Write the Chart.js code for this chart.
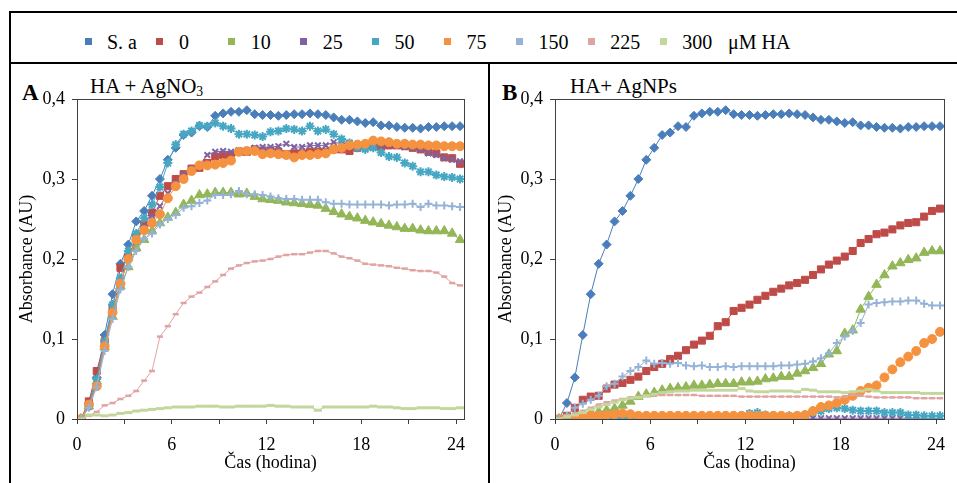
<!DOCTYPE html>
<html>
<head>
<meta charset="utf-8">
<script src="https://cdn.jsdelivr.net/npm/chart.js@4.4.0/dist/chart.umd.min.js"></script>
<style>
  body { margin: 0; background: #fff; font-family: "Liberation Serif", "Times New Roman", serif; }
  #wrap { position: relative; width: 957px; height: 483px; overflow: hidden; }
  .ln { position: absolute; background: #000; }
  .lab { position: absolute; white-space: nowrap; color: #000; line-height: 1; }
  .box { position: absolute; }
  .mk { position: absolute; width: 7px; height: 7px; }
  sub { font-size: 65%; vertical-align: -0.25em; }
</style>
</head>
<body>
<div id="wrap">
  <div class="ln" style="left:9px; top:11px; width:950px; height:2px"></div>
  <div class="ln" style="left:9px; top:11px; width:2px; height:480px"></div>
  <div class="ln" style="left:9px; top:62px; width:950px; height:2px"></div>
  <div class="ln" style="left:488px; top:62px; width:2px; height:430px"></div>
  <div id="legend"></div>
  <div class="lab" style="left:22px; top:81px; font-size:23px; font-weight:bold">A</div>
  <div class="lab" style="left:90px; top:76px; font-size:21px">HA + AgNO<sub>3</sub></div>
  <div class="lab" style="left:502px; top:81px; font-size:23px; font-weight:bold">B</div>
  <div class="lab" style="left:570px; top:76px; font-size:21px">HA+ AgNPs</div>
  <div class="box" style="left:12px; top:65px; width:475px; height:418px"><canvas id="chartA"></canvas></div>
  <div class="box" style="left:491px; top:65px; width:466px; height:418px"><canvas id="chartB"></canvas></div>
</div>
<script>
// čas měření (h)
const time = [0.25, 0.75, 1.25, 1.75, 2.25, 2.75, 3.25, 3.75, 4.25, 4.75,
  5.25, 5.75, 6.25, 6.75, 7.25, 7.75, 8.25, 8.75, 9.25, 9.75,
  10.25, 10.75, 11.25, 11.75, 12.25, 12.75, 13.25, 13.75, 14.25, 14.75,
  15.25, 15.75, 16.25, 16.75, 17.25, 17.75, 18.25, 18.75, 19.25, 19.75,
  20.25, 20.75, 21.25, 21.75, 22.25, 22.75, 23.25, 23.75, 24.25];

const seriesLabels = ['S. a', '0', '10', '25', '50', '75', '150', '225', '300'];
const unitLabel = 'μM HA';
const yTicks = [0, 0.1, 0.2, 0.3, 0.4];
const xTicks = [0, 3, 6, 9, 12, 15, 18, 21, 24];

// kontrola S. aureus (stejná v obou grafech)
const sa = [0, 0.02, 0.052, 0.105, 0.156, 0.194, 0.218, 0.247, 0.26, 0.279,
  0.3, 0.324, 0.339, 0.355, 0.358, 0.366, 0.365, 0.379, 0.382, 0.384,
  0.384, 0.386, 0.381, 0.38, 0.38, 0.379, 0.38, 0.381, 0.381, 0.382,
  0.381, 0.38, 0.377, 0.374, 0.374, 0.372, 0.37, 0.371, 0.367, 0.367,
  0.365, 0.364, 0.364, 0.363, 0.365, 0.365, 0.366, 0.366, 0.366];

// A: HA + AgNO3
const a0 = [0, 0.022, 0.06, 0.097, 0.139, 0.189, 0.202, 0.226, 0.243, 0.258,
  0.279, 0.291, 0.3, 0.306, 0.313, 0.314, 0.32, 0.328, 0.33, 0.33,
  0.334, 0.334, 0.337, 0.335, 0.335, 0.334, 0.331, 0.332, 0.332, 0.334,
  0.334, 0.334, 0.337, 0.337, 0.335, 0.339, 0.341, 0.341, 0.34, 0.342,
  0.342, 0.341, 0.339, 0.337, 0.334, 0.332, 0.327, 0.326, 0.319];
const a10 = [0, 0.016, 0.047, 0.09, 0.128, 0.166, 0.19, 0.214, 0.224, 0.235,
  0.245, 0.252, 0.258, 0.268, 0.273, 0.28, 0.281, 0.283, 0.283, 0.283,
  0.281, 0.282, 0.278, 0.275, 0.274, 0.273, 0.271, 0.27, 0.269, 0.268,
  0.267, 0.263, 0.259, 0.256, 0.253, 0.251, 0.248, 0.246, 0.244, 0.242,
  0.24, 0.238, 0.238, 0.236, 0.235, 0.235, 0.235, 0.232, 0.224];
const a25 = [0, 0.015, 0.045, 0.092, 0.135, 0.17, 0.2, 0.222, 0.24, 0.254,
  0.266, 0.282, 0.295, 0.306, 0.313, 0.318, 0.33, 0.334, 0.335, 0.334,
  0.336, 0.336, 0.339, 0.34, 0.34, 0.341, 0.344, 0.34, 0.34, 0.342,
  0.342, 0.342, 0.346, 0.344, 0.345, 0.343, 0.343, 0.344, 0.343, 0.343,
  0.342, 0.34, 0.339, 0.337, 0.332, 0.33, 0.326, 0.324, 0.322];
const a50 = [0, 0.016, 0.05, 0.097, 0.143, 0.176, 0.21, 0.232, 0.251, 0.268,
  0.29, 0.32, 0.343, 0.356, 0.36, 0.367, 0.366, 0.37, 0.366, 0.363,
  0.356, 0.356, 0.355, 0.353, 0.359, 0.36, 0.363, 0.362, 0.36, 0.366,
  0.36, 0.362, 0.356, 0.35, 0.345, 0.339, 0.337, 0.339, 0.333, 0.328,
  0.327, 0.32, 0.316, 0.309, 0.309, 0.305, 0.303, 0.302, 0.3];
const a75 = [0, 0.018, 0.041, 0.091, 0.133, 0.169, 0.2, 0.224, 0.236, 0.245,
  0.256, 0.276, 0.291, 0.3, 0.31, 0.317, 0.317, 0.318, 0.32, 0.323,
  0.334, 0.335, 0.335, 0.331, 0.332, 0.331, 0.33, 0.327, 0.33, 0.33,
  0.331, 0.332, 0.337, 0.339, 0.342, 0.343, 0.344, 0.348, 0.347, 0.346,
  0.344, 0.344, 0.343, 0.343, 0.342, 0.342, 0.341, 0.341, 0.341];
const a150 = [0, 0.014, 0.04, 0.085, 0.125, 0.162, 0.19, 0.21, 0.225, 0.232,
  0.243, 0.25, 0.255, 0.264, 0.266, 0.27, 0.273, 0.28, 0.28, 0.281,
  0.285, 0.281, 0.281, 0.28, 0.278, 0.276, 0.275, 0.275, 0.274, 0.274,
  0.274, 0.271, 0.269, 0.269, 0.268, 0.268, 0.268, 0.268, 0.268, 0.267,
  0.268, 0.268, 0.269, 0.265, 0.269, 0.267, 0.267, 0.266, 0.265];
const a225 = [0, 0.004, 0.009, 0.017, 0.02, 0.025, 0.029, 0.035, 0.048, 0.06,
  0.103, 0.116, 0.131, 0.145, 0.153, 0.158, 0.165, 0.172, 0.18, 0.188,
  0.192, 0.195, 0.197, 0.198, 0.2, 0.203, 0.205, 0.206, 0.206, 0.208,
  0.21, 0.21, 0.207, 0.203, 0.201, 0.198, 0.194, 0.193, 0.192, 0.191,
  0.189, 0.188, 0.186, 0.185, 0.185, 0.183, 0.178, 0.17, 0.167];
const a300 = [0, 0.005, 0.005, 0.004, 0.005, 0.007, 0.008, 0.01, 0.011, 0.012,
  0.013, 0.014, 0.015, 0.015, 0.015, 0.016, 0.016, 0.016, 0.015, 0.015,
  0.016, 0.016, 0.016, 0.016, 0.017, 0.016, 0.016, 0.015, 0.015, 0.015,
  0.011, 0.015, 0.015, 0.015, 0.015, 0.015, 0.015, 0.016, 0.015, 0.015,
  0.014, 0.013, 0.013, 0.014, 0.014, 0.014, 0.013, 0.013, 0.014];

// B: HA + AgNPs
const b0 = [0, 0.004, 0.014, 0.024, 0.028, 0.029, 0.038, 0.043, 0.045, 0.049,
  0.053, 0.06, 0.065, 0.069, 0.075, 0.079, 0.086, 0.093, 0.098, 0.104,
  0.116, 0.121, 0.135, 0.139, 0.143, 0.149, 0.154, 0.159, 0.163, 0.167,
  0.17, 0.174, 0.18, 0.187, 0.193, 0.198, 0.203, 0.21, 0.22, 0.225,
  0.231, 0.233, 0.237, 0.242, 0.245, 0.246, 0.253, 0.26, 0.263];
const b10 = [0, 0.001, 0.003, 0.005, 0.008, 0.009, 0.011, 0.013, 0.017, 0.022,
  0.028, 0.031, 0.033, 0.036, 0.038, 0.039, 0.04, 0.042, 0.042, 0.043,
  0.044, 0.044, 0.044, 0.046, 0.046, 0.047, 0.05, 0.051, 0.053, 0.053,
  0.057, 0.06, 0.064, 0.069, 0.081, 0.085, 0.107, 0.111, 0.137, 0.153,
  0.168, 0.18, 0.191, 0.195, 0.199, 0.201, 0.208, 0.21, 0.21];
const b25 = [0, 0.001, 0.001, 0.001, 0.001, 0.001, 0.001, 0.001, 0.001, 0.001,
  0.001, 0.001, 0.001, 0.001, 0.001, 0.001, 0.001, 0.001, 0.001, 0.001,
  0.001, 0.001, 0.001, 0.001, 0.001, 0.001, 0.001, 0.001, 0.001, 0.001,
  0.001, 0.001, 0.001, 0.001, 0.001, 0.001, 0.001, 0.001, 0.001, 0.001,
  0.001, 0.001, 0.001, 0.001, 0.001, 0.001, 0.001, 0.001, 0.001];
const b50 = [0, 0.001, 0.001, 0.002, 0.002, 0.002, 0.002, 0.002, 0.002, 0.002,
  0.002, 0.002, 0.002, 0.002, 0.002, 0.002, 0.002, 0.002, 0.002, 0.002,
  0.002, 0.003, 0.003, 0.004, 0.007, 0.008, 0.005, 0.004, 0.004, 0.004,
  0.004, 0.005, 0.008, 0.01, 0.013, 0.014, 0.013, 0.011, 0.01, 0.01,
  0.01, 0.008, 0.008, 0.008, 0.005, 0.005, 0.004, 0.004, 0.004];
const b75 = [0, 0.001, 0.002, 0.004, 0.004, 0.004, 0.005, 0.006, 0.007, 0.006,
  0.004, 0.004, 0.004, 0.004, 0.004, 0.004, 0.004, 0.004, 0.004, 0.004,
  0.004, 0.004, 0.004, 0.004, 0.004, 0.004, 0.004, 0.004, 0.004, 0.003,
  0.004, 0.005, 0.01, 0.015, 0.017, 0.02, 0.024, 0.029, 0.035, 0.039,
  0.042, 0.052, 0.062, 0.071, 0.078, 0.085, 0.095, 0.1, 0.109];
const b150 = [0, 0.004, 0.014, 0.019, 0.024, 0.029, 0.041, 0.044, 0.053, 0.06,
  0.065, 0.073, 0.069, 0.07, 0.069, 0.07, 0.067, 0.066, 0.067, 0.065,
  0.065, 0.066, 0.065, 0.066, 0.066, 0.066, 0.066, 0.066, 0.067, 0.067,
  0.068, 0.069, 0.072, 0.076, 0.082, 0.095, 0.103, 0.11, 0.12, 0.143,
  0.145, 0.146, 0.147, 0.147, 0.148, 0.148, 0.144, 0.142, 0.142];
const b225 = [0, 0.004, 0.007, 0.01, 0.014, 0.018, 0.021, 0.023, 0.025, 0.027,
  0.028, 0.029, 0.029, 0.03, 0.03, 0.03, 0.03, 0.03, 0.029, 0.029,
  0.029, 0.029, 0.029, 0.028, 0.028, 0.028, 0.028, 0.028, 0.028, 0.028,
  0.028, 0.028, 0.028, 0.028, 0.028, 0.027, 0.028, 0.03, 0.029, 0.028,
  0.027, 0.027, 0.027, 0.027, 0.027, 0.026, 0.026, 0.026, 0.026];
const b300 = [0, 0.003, 0.005, 0.008, 0.012, 0.015, 0.018, 0.021, 0.024, 0.026,
  0.027, 0.029, 0.031, 0.033, 0.034, 0.035, 0.035, 0.036, 0.036, 0.036,
  0.036, 0.036, 0.036, 0.038, 0.035, 0.034, 0.034, 0.035, 0.035, 0.035,
  0.034, 0.037, 0.036, 0.034, 0.034, 0.034, 0.033, 0.034, 0.035, 0.037,
  0.035, 0.033, 0.033, 0.033, 0.033, 0.033, 0.032, 0.032, 0.032];

// vzhled řad
const colors = ['#4A7EBB', '#BE4B48', '#93B657', '#7F63A1', '#45A7C3', '#F59240', '#95B3D7', '#DFA3A1', '#C3D69B'];
const shapes = ['rectRot', 'rect', 'triangle', 'crossRot', 'star', 'circle', 'cross', 'line', 'line'];
const radii = [4.5, 5, 5.5, 4, 4.5, 4.5, 4, 3, 4];
const strokes = [1, 1, 1, 2, 2, 1, 2, 2.5, 3];

const serif = "'Liberation Serif', 'Times New Roman', serif";

// legenda nahoře
const legend = document.getElementById('legend');
seriesLabels.forEach(function (lbl, i) {
    const x = 88 + 71.9 * i;
    const m = document.createElement('div');
    m.className = 'mk';
    m.style.left = (x - 3.5) + 'px';
    m.style.top = '38px';
    m.style.background = colors[i];
    legend.appendChild(m);
    const t = document.createElement('div');
    t.className = 'lab';
    t.style.left = (x + 19) + 'px';
    t.style.top = '32px';
    t.style.fontSize = '20px';
    t.textContent = lbl;
    legend.appendChild(t);
});
const u = document.createElement('div');
u.className = 'lab';
u.style.left = '728px';
u.style.top = '32px';
u.style.fontSize = '20px';
u.textContent = unitLabel;
legend.appendChild(u);

// rámeček plochy grafu
const plotFrame = {
    id: 'plotFrame',
    afterDatasetsDraw(chart) {
        const a = chart.chartArea;
        const ctx = chart.ctx;
        ctx.save();
        ctx.strokeStyle = '#404040';
        ctx.lineWidth = 1;
        ctx.strokeRect(Math.round(a.left) + 0.5, Math.round(a.top) + 0.5,
            Math.round(a.right - a.left), Math.round(a.bottom - a.top));
        ctx.restore();
    }
};

function makeChart(id, series, yWidth, padRight) {
    const datasets = series.map(function (vals, i) {
        return {
            label: seriesLabels[i],
            data: vals.map(function (v, k) { return { x: time[k], y: v }; }),
            borderColor: colors[i],
            backgroundColor: colors[i],
            borderWidth: 1,
            pointStyle: shapes[i],
            pointRadius: radii[i],
            pointBorderWidth: strokes[i],
            pointBorderColor: colors[i],
            pointBackgroundColor: colors[i],
            tension: 0,
            order: 9 - i
        };
    });
    return new Chart(document.getElementById(id).getContext('2d'), {
        type: 'line',
        data: { datasets: datasets },
        options: {
            responsive: true,
            maintainAspectRatio: false,
            animation: false,
            layout: { padding: { left: 0, right: padRight, top: 34, bottom: 0 } },
            plugins: { legend: { display: false }, tooltip: { enabled: false } },
            scales: {
                x: {
                    type: 'linear',
                    min: 0,
                    max: 24.5,
                    afterBuildTicks: function (s) { s.ticks = xTicks.map(function (v) { return { value: v }; }); },
                    afterFit: function (s) { s.height = 64; },
                    border: { display: true, color: '#000', width: 1 },
                    grid: { display: true, drawOnChartArea: false, drawTicks: true, tickLength: 5, color: '#404040' },
                    ticks: {
                        autoSkip: false, maxRotation: 0, padding: 10, color: '#000',
                        font: { family: serif, size: 18 },
                        callback: function (v) { return v % 6 === 0 ? String(v) : ''; }
                    },
                    title: {
                        display: true, text: 'Čas (hodina)', color: '#000',
                        font: { family: serif, size: 18 }, padding: { top: 0, bottom: 9 }
                    }
                },
                y: {
                    min: 0,
                    max: 0.4,
                    afterBuildTicks: function (s) { s.ticks = yTicks.map(function (v) { return { value: v }; }); },
                    afterFit: function (s) { s.width = yWidth; },
                    border: { display: true, color: '#000', width: 1 },
                    grid: { display: true, drawOnChartArea: false, drawTicks: true, tickLength: 5, color: '#404040' },
                    ticks: {
                        padding: 7, color: '#000',
                        font: { family: serif, size: 18 },
                        callback: function (v) { return v === 0 ? '0' : v.toFixed(1).replace('.', ','); }
                    },
                    title: {
                        display: true, text: 'Absorbance (AU)', color: '#000',
                        font: { family: serif, size: 18 }, padding: { top: 4, bottom: 0 }
                    }
                }
            }
        },
        plugins: [plotFrame]
    });
}

makeChart('chartA', [sa, a0, a10, a25, a50, a75, a150, a225, a300], 65, 23);
makeChart('chartB', [sa, b0, b10, b25, b50, b75, b150, b225, b300], 64, 13);
</script>
</body>
</html>
